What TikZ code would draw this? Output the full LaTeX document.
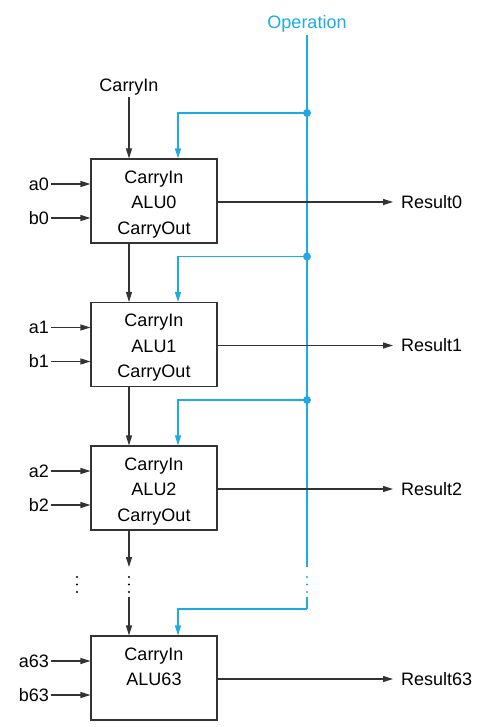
\documentclass[tikz,border=0pt]{standalone}
\usepackage{fontspec}
\setmainfont{Liberation Sans}
\usetikzlibrary{arrows.meta}
\definecolor{opblue}{RGB}{30,170,226}
\definecolor{wirecol}{RGB}{51,51,51}

\begin{document}
\begin{tikzpicture}[x=1pt, y=-1pt, >={Triangle[length=10pt,width=6pt]},
  font=\fontsize{18}{25.5}\selectfont,
  alu/.style={draw=wirecol, line width=1.1pt, minimum width=126pt, minimum height=84pt, align=center, inner sep=0pt},
  wire/.style={draw=wirecol, line width=1.1pt},
  opwire/.style={draw=opblue, line width=1.25pt},
  lbl/.style={text=black, inner sep=2pt}]
\useasboundingbox (0,0) rectangle (493,727);
\node[lbl, text=opblue] (op) at (307,24) {Operation};
\node[lbl] (cin) at (129,87) {CarryIn};
% blue operation bus
\coordinate (opT) at (307,567);
\coordinate (opB) at (307,597);
\coordinate (j63) at (307,609);
\draw[opwire] (op) -- (opT);
\draw[opwire] (opB) -- (j63);
\foreach \i in {0,1,2} {
  \pgfmathsetmacro\yc{201+143.5*\i}
  \node[alu] (alu\i) at (154,\yc) {\rule{0pt}{19pt}CarryIn\\ALU\i\\CarryOut};
  \node[lbl, anchor=east] (a\i) at (51,\yc-17) {a\i};
  \node[lbl, anchor=east] (b\i) at (51,\yc+17) {b\i};
  \node[lbl, anchor=west, inner xsep=8pt] (r\i) at (393,\yc+1) {Result\i};
  \coordinate (j\i) at (307,\yc-88);
  \fill[opblue] (j\i) circle (4pt);
  \draw[opwire,->] (j\i) -| ([xshift=24pt]alu\i.north);
  \draw[wire,->] (a\i) -- (a\i -| alu\i.west);
  \draw[wire,->] (b\i) -- (b\i -| alu\i.west);
  \draw[wire,->] (alu\i.east |- r\i) -- (r\i.west);
}
\node[alu] (alu63) at (154,678) {\rule{0pt}{23pt}CarryIn\\ALU63\\\strut};
\node[lbl, anchor=east] (a63) at (51,661) {a63};
\node[lbl, anchor=east] (b63) at (51,695) {b63};
\node[lbl, anchor=west, inner xsep=8pt] (r63) at (393,679) {Result63};
\draw[opwire,->] (j63) -| ([xshift=24pt]alu63.north);
\draw[wire,->] (a63) -- (a63 -| alu63.west);
\draw[wire,->] (b63) -- (b63 -| alu63.west);
\draw[wire,->] (alu63.east |- r63) -- (r63.west);
% carry chain
\coordinate (gapT) at (129,567);
\coordinate (gapB) at (129,597);
\draw[wire,->] (cin) -- (cin |- alu0.north);
\foreach \i/\j in {0/1,1/2}
  \draw[wire,->] ([xshift=-25pt]alu\i.south) -- ([xshift=-25pt]alu\j.north);
\draw[wire,->] ([xshift=-25pt]alu2.south) -- (gapT);
\draw[wire,->] (gapB) -- (gapB |- alu63.north);
% vertical dots
\foreach \x/\c in {77/black,129/black,307/opblue}
  \foreach \y in {577,584.5,592}
    \fill[\c] (\x,\y) circle (1.2pt);
\end{tikzpicture}
\end{document}
